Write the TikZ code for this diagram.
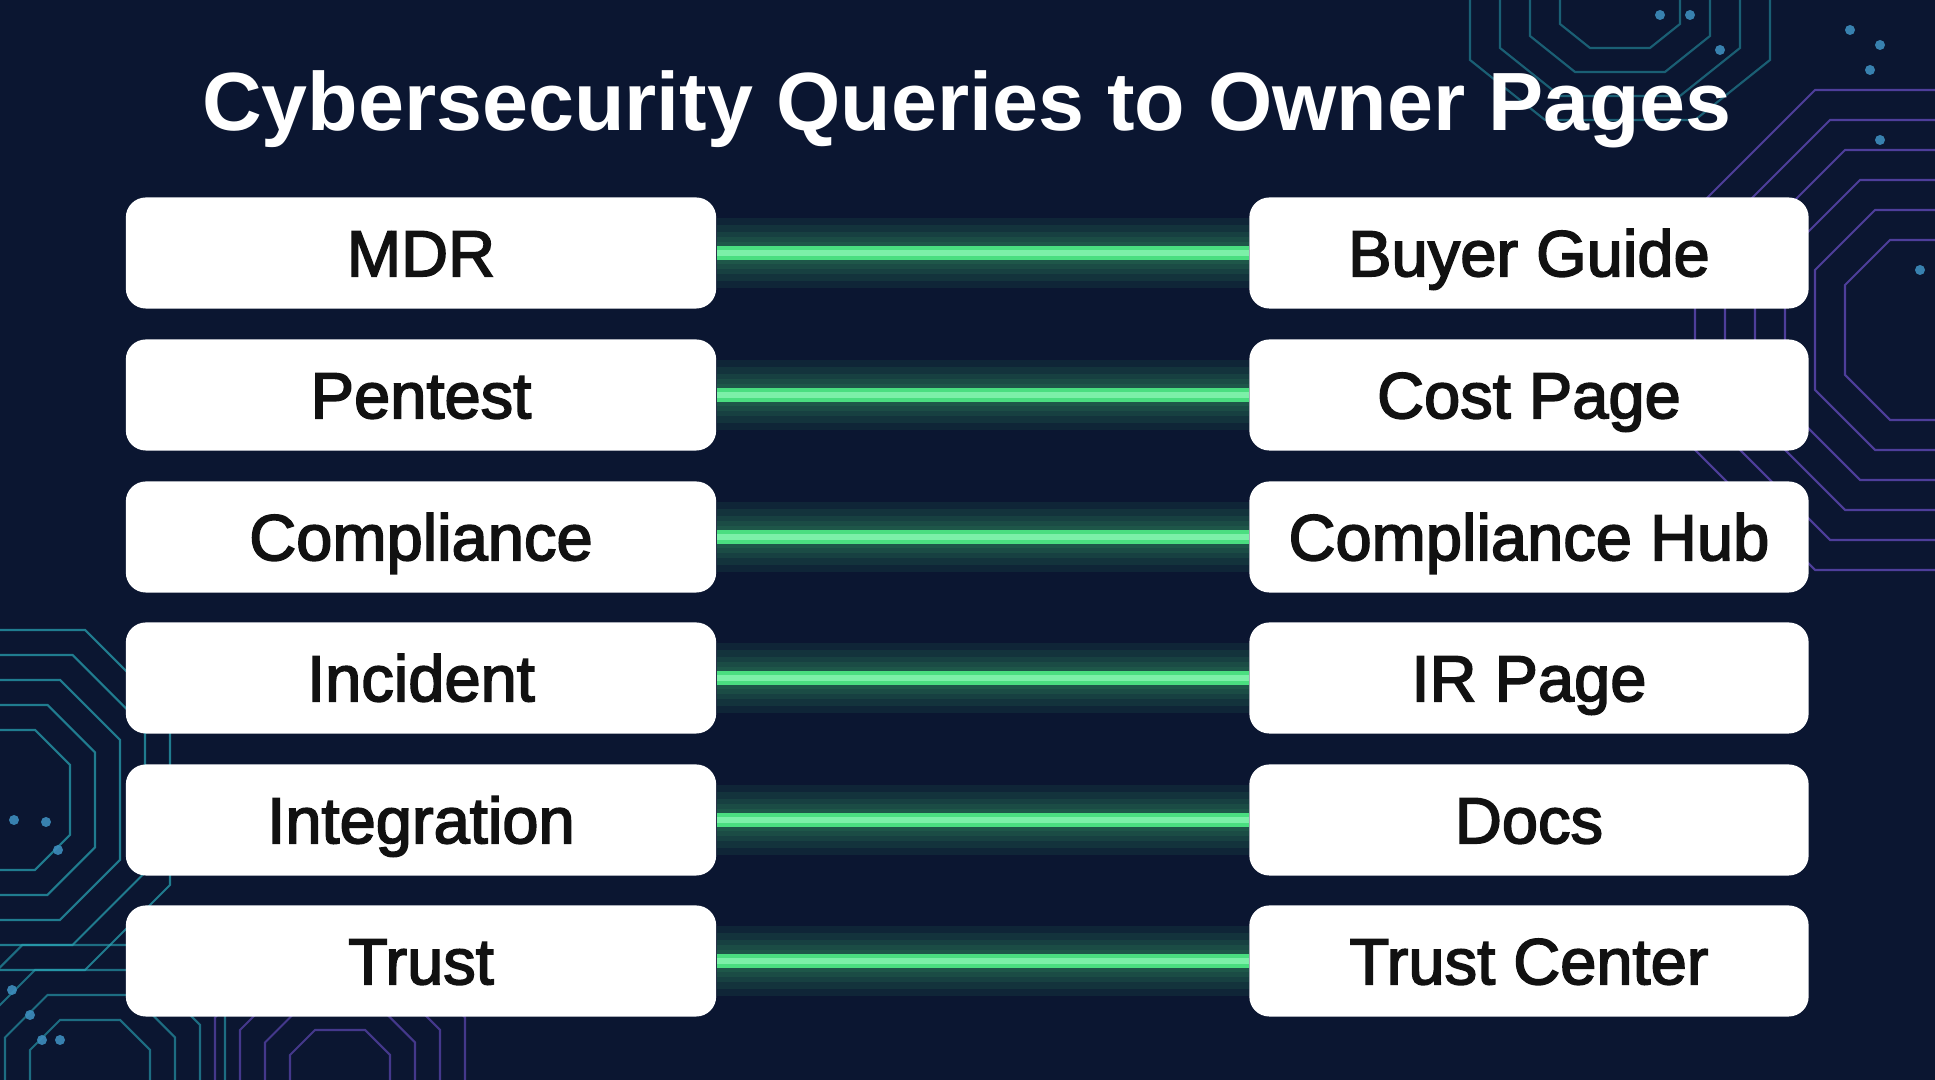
\documentclass[tikz,border=0pt]{standalone}
\usepackage{fontspec}
\setmainfont{Liberation Sans}
\newfontfamily\boxfont{Liberation Sans}[FakeBold=2.5]
\usepackage{tikz}
\usetikzlibrary{calc}
\definecolor{bgnavy}{HTML}{0B1631}
\definecolor{glowgreen}{HTML}{4ADE80}
\definecolor{glowcore}{HTML}{7CF0A8}
\definecolor{traceteal}{HTML}{2AA8B8}
\definecolor{tracepurple}{HTML}{6B4FC8}
\definecolor{boxtext}{HTML}{111111}
\begin{document}
\begin{tikzpicture}[x=0.01cm,y=-0.01cm]

                \tikzstyle{query} = [rectangle, rounded corners=0.2cm, fill=white, text=boxtext, minimum width=5.9cm, minimum height=1.11cm, inner sep=0pt, text height=13.2pt, text depth=0pt, font=\boxfont\fontsize{18.5}{20}\selectfont]
                \tikzstyle{owner} = [query, minimum width=5.59cm]
                \tikzstyle{glow}  = [glowgreen, line cap=butt]
                \fill [bgnavy] (0,0) rectangle (1935,1080);
                \useasboundingbox (0,0) rectangle (1935,1080);
                \begin{scope}
                \clip (0,0) rectangle (1935,1080);
                \foreach \r in {70,95,120,145,170}
                        \draw [traceteal, opacity=0.7, line width=0.6pt] (0,{800-\r}) -- ({0.5*\r},{800-\r}) -- (\r,{800-0.5*\r}) -- (\r,{800+0.5*\r}) -- ({0.5*\r},{800+\r}) -- (0,{800+\r});
                \foreach \r in {60,85,110,135}
                        \draw [traceteal, opacity=0.6, line width=0.6pt] ({90-\r},1080) -- ({90-\r},{1080-0.5*\r}) -- ({90-0.5*\r},{1080-\r}) -- ({90+0.5*\r},{1080-\r}) -- ({90+\r},{1080-0.5*\r}) -- ({90+\r},1080);
                \foreach \r in {50,75,100,125}
                        \draw [tracepurple, opacity=0.6, line width=0.6pt] ({340-\r},1080) -- ({340-\r},{1080-0.5*\r}) -- ({340-0.5*\r},{1080-\r}) -- ({340+0.5*\r},{1080-\r}) -- ({340+\r},{1080-0.5*\r}) -- ({340+\r},1080);
                \foreach \r in {60,90,120,150}
                        \draw [traceteal, opacity=0.5, line width=0.6pt] ({1620-\r},0) -- ({1620-\r},{0.4*\r}) -- ({1620-0.5*\r},{0.8*\r}) -- ({1620+0.5*\r},{0.8*\r}) -- ({1620+\r},{0.4*\r}) -- ({1620+\r},0);
                \foreach \r in {90,120,150,180,210,240}
                        \draw [tracepurple, opacity=0.7, line width=0.6pt] (1935,{330-\r}) -- ({1935-0.5*\r},{330-\r}) -- ({1935-\r},{330-0.5*\r}) -- ({1935-\r},{330+0.5*\r}) -- ({1935-0.5*\r},{330+\r}) -- (1935,{330+\r});
                \foreach \px/\py in {14/820,46/822,58/850,12/990,30/1015,42/1040,60/1040,1660/15,1690/15,1720/50,1850/30,1880/45,1870/70,1880/140,1920/270}
                        \fill [traceteal!70!tracepurple, opacity=0.9] (\px,\py) circle (0.05cm);
                \end{scope}
                \node [text=white, font=\bfseries\fontsize{23.5}{27}\selectfont, text height=16.8pt, text depth=0pt](title) at (967,101) {Cybersecurity Queries to Owner Pages};
                \node [query](q1) at (421,253) {MDR};
                \node [query](q2) at (421,395) {Pentest};
                \node [query](q3) at (421,537) {Compliance};
                \node [query](q4) at (421,678) {Incident};
                \node [query](q5) at (421,820) {Integration};
                \node [query](q6) at (421,961) {Trust};
                \node [owner](p1) at (1529,253) {Buyer Guide};
                \node [owner](p2) at (1529,395) {Cost Page};
                \node [owner](p3) at (1529,537) {Compliance Hub};
                \node [owner](p4) at (1529,678) {IR Page};
                \node [owner](p5) at (1529,820) {Docs};
                \node [owner](p6) at (1529,961) {Trust Center};
                \foreach \i in {1,...,6} {
                        \foreach \w in {20,16,12,9,6}
                                \draw [glow, line width=\w pt, opacity=0.08] (q\i.east) -- (p\i.west);
                        \draw [glow, line width=4pt] (q\i.east) -- (p\i.west);
                        \draw [glowcore, line width=1.5pt] (q\i.east) -- (p\i.west);
                }
\end{tikzpicture}
\end{document}
